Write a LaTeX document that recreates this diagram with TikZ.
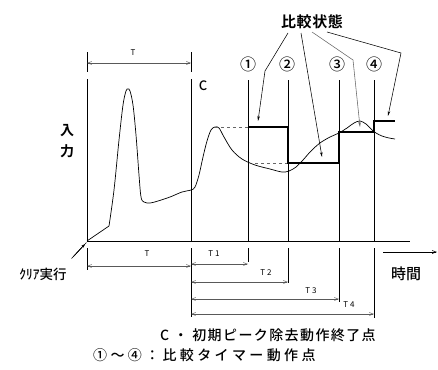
\documentclass[tikz,border=0pt]{standalone}
\usepackage{fontspec}
\setmainfont{Noto Sans CJK JP}
\newfontfamily\jpm{Noto Sans CJK JP Medium}
\newfontfamily\jpsp[LetterSpace=10]{Noto Sans CJK JP Medium}
\newfontfamily\jpspw[LetterSpace=24]{Noto Sans CJK JP Medium}
\newfontfamily\jpbs[LetterSpace=4]{Noto Sans CJK JP Bold}
\usetikzlibrary{arrows.meta}
\begin{document}
\begin{tikzpicture}[x=1pt,y=-1pt,
  thinline/.style={line width=0.8pt},
  dimline/.style={line width=0.5pt, black!65, {Straight Barb[length=4pt,width=3pt]}-{Straight Barb[length=4pt,width=3pt]}},
  stepline/.style={line width=2.2pt},
  guide/.style={dashed, black!60, line width=0.6pt},
  callout/.style={line width=0.55pt, -{Stealth[length=5pt,width=2.5pt]}},
  lbl/.style={inner sep=0pt, font=\fontsize{13.5}{13.5}\jpm},
  bigl/.style={inner sep=0pt, font=\fontsize{16}{16}\jpm},
  small/.style={inner sep=0pt, font=\fontsize{8}{8}\selectfont},
]
\useasboundingbox (0,0) rectangle (438,369);
% key coordinates
\coordinate (O) at (87,241);
\coordinate (Ot) at (87,79);
\coordinate (C) at (191,241);
\coordinate (Ct) at (191,79);
\coordinate (A1) at (248,241); \coordinate (A1t) at (248,80);
\coordinate (A2) at (288,241); \coordinate (A2t) at (288,80);
\coordinate (A3) at (339,241); \coordinate (A3t) at (339,80);
\coordinate (A4) at (374,241); \coordinate (A4t) at (374,80);
\coordinate (Xe) at (410,241);
% axis and verticals
\draw[thinline] (O) -- (Xe);
\foreach \a/\b in {Ot/O, Ct/C, A1t/A1, A2t/A2, A3t/A3, A4t/A4} \draw[thinline] (\a) -- (\b);
% top T ticks
\coordinate (Tt1) at (87,52); \coordinate (Tt1b) at (87,72);
\coordinate (Tt2) at (191,52); \coordinate (Tt2b) at (191,72);
\draw[thinline] (Tt1) -- (Tt1b);
\draw[thinline] (Tt2) -- (Tt2b);
\coordinate (TaL) at (87,63); \coordinate (TaR) at (191,63);
\draw[dimline] (TaL) -- (TaR);
\node[small] (Ttop) at (133,53) {T};
% lower ticks
\coordinate (L0a) at (87,248); \coordinate (L0b) at (87,270);
\coordinate (LCa) at (191,248); \coordinate (LCb) at (191,317);
\coordinate (L1a) at (248,248); \coordinate (L1b) at (248,262);
\coordinate (L2a) at (288,248); \coordinate (L2b) at (288,283);
\coordinate (L3a) at (339,248); \coordinate (L3b) at (339,302);
\coordinate (L4a) at (374,248); \coordinate (L4b) at (374,318);
\foreach \a/\b in {L0a/L0b, LCa/LCb, L1a/L1b, L2a/L2b, L3a/L3b, L4a/L4b} \draw[thinline] (\a) -- (\b);
% dimension arrows
\coordinate (dT0) at (87,266); \coordinate (dT1) at (191,266);
\draw[dimline] (dT0) -- (dT1);
\node[small] (Tb) at (147,254) {T};
\coordinate (d10) at (191,264); \coordinate (d11) at (248,264);
\draw[dimline] (d10) -- (d11);
\node[small] (T1) at (214,254) {T 1};
\coordinate (d20) at (191,282); \coordinate (d21) at (288,282);
\draw[dimline] (d20) -- (d21);
\node[small] (T2) at (266,273) {T 2};
\coordinate (d30) at (191,299); \coordinate (d31) at (339,299);
\draw[dimline] (d30) -- (d31);
\node[small] (T3) at (311,291) {T 3};
\coordinate (d40) at (191,314); \coordinate (d41) at (374,314);
\draw[dimline] (d40) -- (d41);
\node[small] (T4) at (349,305) {T 4};
% signal curve
\draw[line width=0.7pt] (O) -- (109,226)
  plot[smooth, tension=0.55] coordinates {(109,226) (114,190) (119,140) (123,105) (126,91) (128,89) (130,91) (133,105) (136,135) (139,175) (141,197) (144,202) (150,203) (158,201) (170,197) (182,192) (191,190) (195,187) (199,175) (203,157) (207,141) (211,130) (215,127) (219,128) (224,137) (232,150) (242,159) (255,165) (270,169) (282,172) (289,171) (296,167) (303,160) (311,151) (320,143) (330,137) (339,133) (347,128) (354,123) (360,121) (366,124) (371,129) (376,133) (382,136) (389,138) (395,139)};
% guide dashes
\coordinate (g1a) at (215,127); \coordinate (g1b) at (248,127);
\coordinate (g2a) at (255,163); \coordinate (g2b) at (288,163);
\draw[guide] (g1a) -- (g1b);
\draw[guide] (g2a) -- (g2b);
% comparison step
\draw[stepline] (248,127) -- (288,127) -- (288,163) -- (339,163) -- (339,132) -- (374,132) -- (374,121) -- (395,121);
% labels
\node[inner sep=0pt, font=\fontsize{15}{15}\jpbs] (hk) at (312,22) {比較状態};
\node[bigl] (n1) at (248,64) {①};
\node[bigl] (n2) at (287,64) {②};
\node[bigl] (n3) at (337,64) {③};
\node[bigl] (n4) at (374,64) {④};
\node[inner sep=0pt, font=\fontsize{13}{13}\jpm] (Cl) at (203,86) {C};
\node[inner sep=0pt, font=\fontsize{14}{14}\jpbs] (in1) at (67,131) {入};
\node[inner sep=0pt, font=\fontsize{14}{14}\jpbs] (in2) at (67,151) {力};
% callouts
\coordinate (c1s) at (288,33); \coordinate (c1m) at (265,71); \coordinate (c1e) at (258,121);
\coordinate (c2s) at (301,33); \coordinate (c2e) at (322,157);
\coordinate (c3s) at (312,32); \coordinate (c3m) at (353,60); \coordinate (c3e) at (360,127);
\coordinate (c4s) at (327,32); \coordinate (c4m) at (401,53); \coordinate (c4e) at (388,116);
\draw[callout] (c1s) -- (c1m) -- (c1e);
\draw[callout] (c2s) -- (c2e);
\draw[callout, black!60] (c3s) -- (c3m) -- (c3e);
\draw[callout] (c4s) -- (c4m) -- (c4e);
% clear arrow
\coordinate (ca) at (73,257); \coordinate (cb) at (85,244);
\draw[line width=0.5pt] ([xshift=-1.5pt,yshift=-1.5pt]ca) -- ([xshift=-1.5pt,yshift=-1.5pt]cb);
\draw[line width=0.5pt, -{Stealth[length=4pt,width=3pt]}] (ca) -- (cb);
\draw[line width=0.5pt] ([xshift=1.5pt,yshift=1.5pt]ca) -- ([xshift=1.5pt,yshift=1.5pt]cb);
\node[lbl] (clr) at (43,274) {ｸﾘｱ実行};
% time arrow
\coordinate (ta) at (383,252); \coordinate (tb) at (437,252);
\draw[line width=0.6pt, -{Straight Barb[length=4pt,width=3pt]}] (ta) -- (tb);
\node[inner sep=0pt, font=\fontsize{15}{15}\jpm] (jk) at (406,274) {時間};
% bottom notes
\node[inner sep=0pt, anchor=west, font=\fontsize{14}{14}\jpsp] (note1) at (160,335) {C ・ 初期ピーク除去動作終了点};
\node[inner sep=0pt, anchor=west, font=\fontsize{14}{14}\jpspw] (note2) at (93,355) {①～④：比較タイマー動作点};
\end{tikzpicture}
\end{document}
